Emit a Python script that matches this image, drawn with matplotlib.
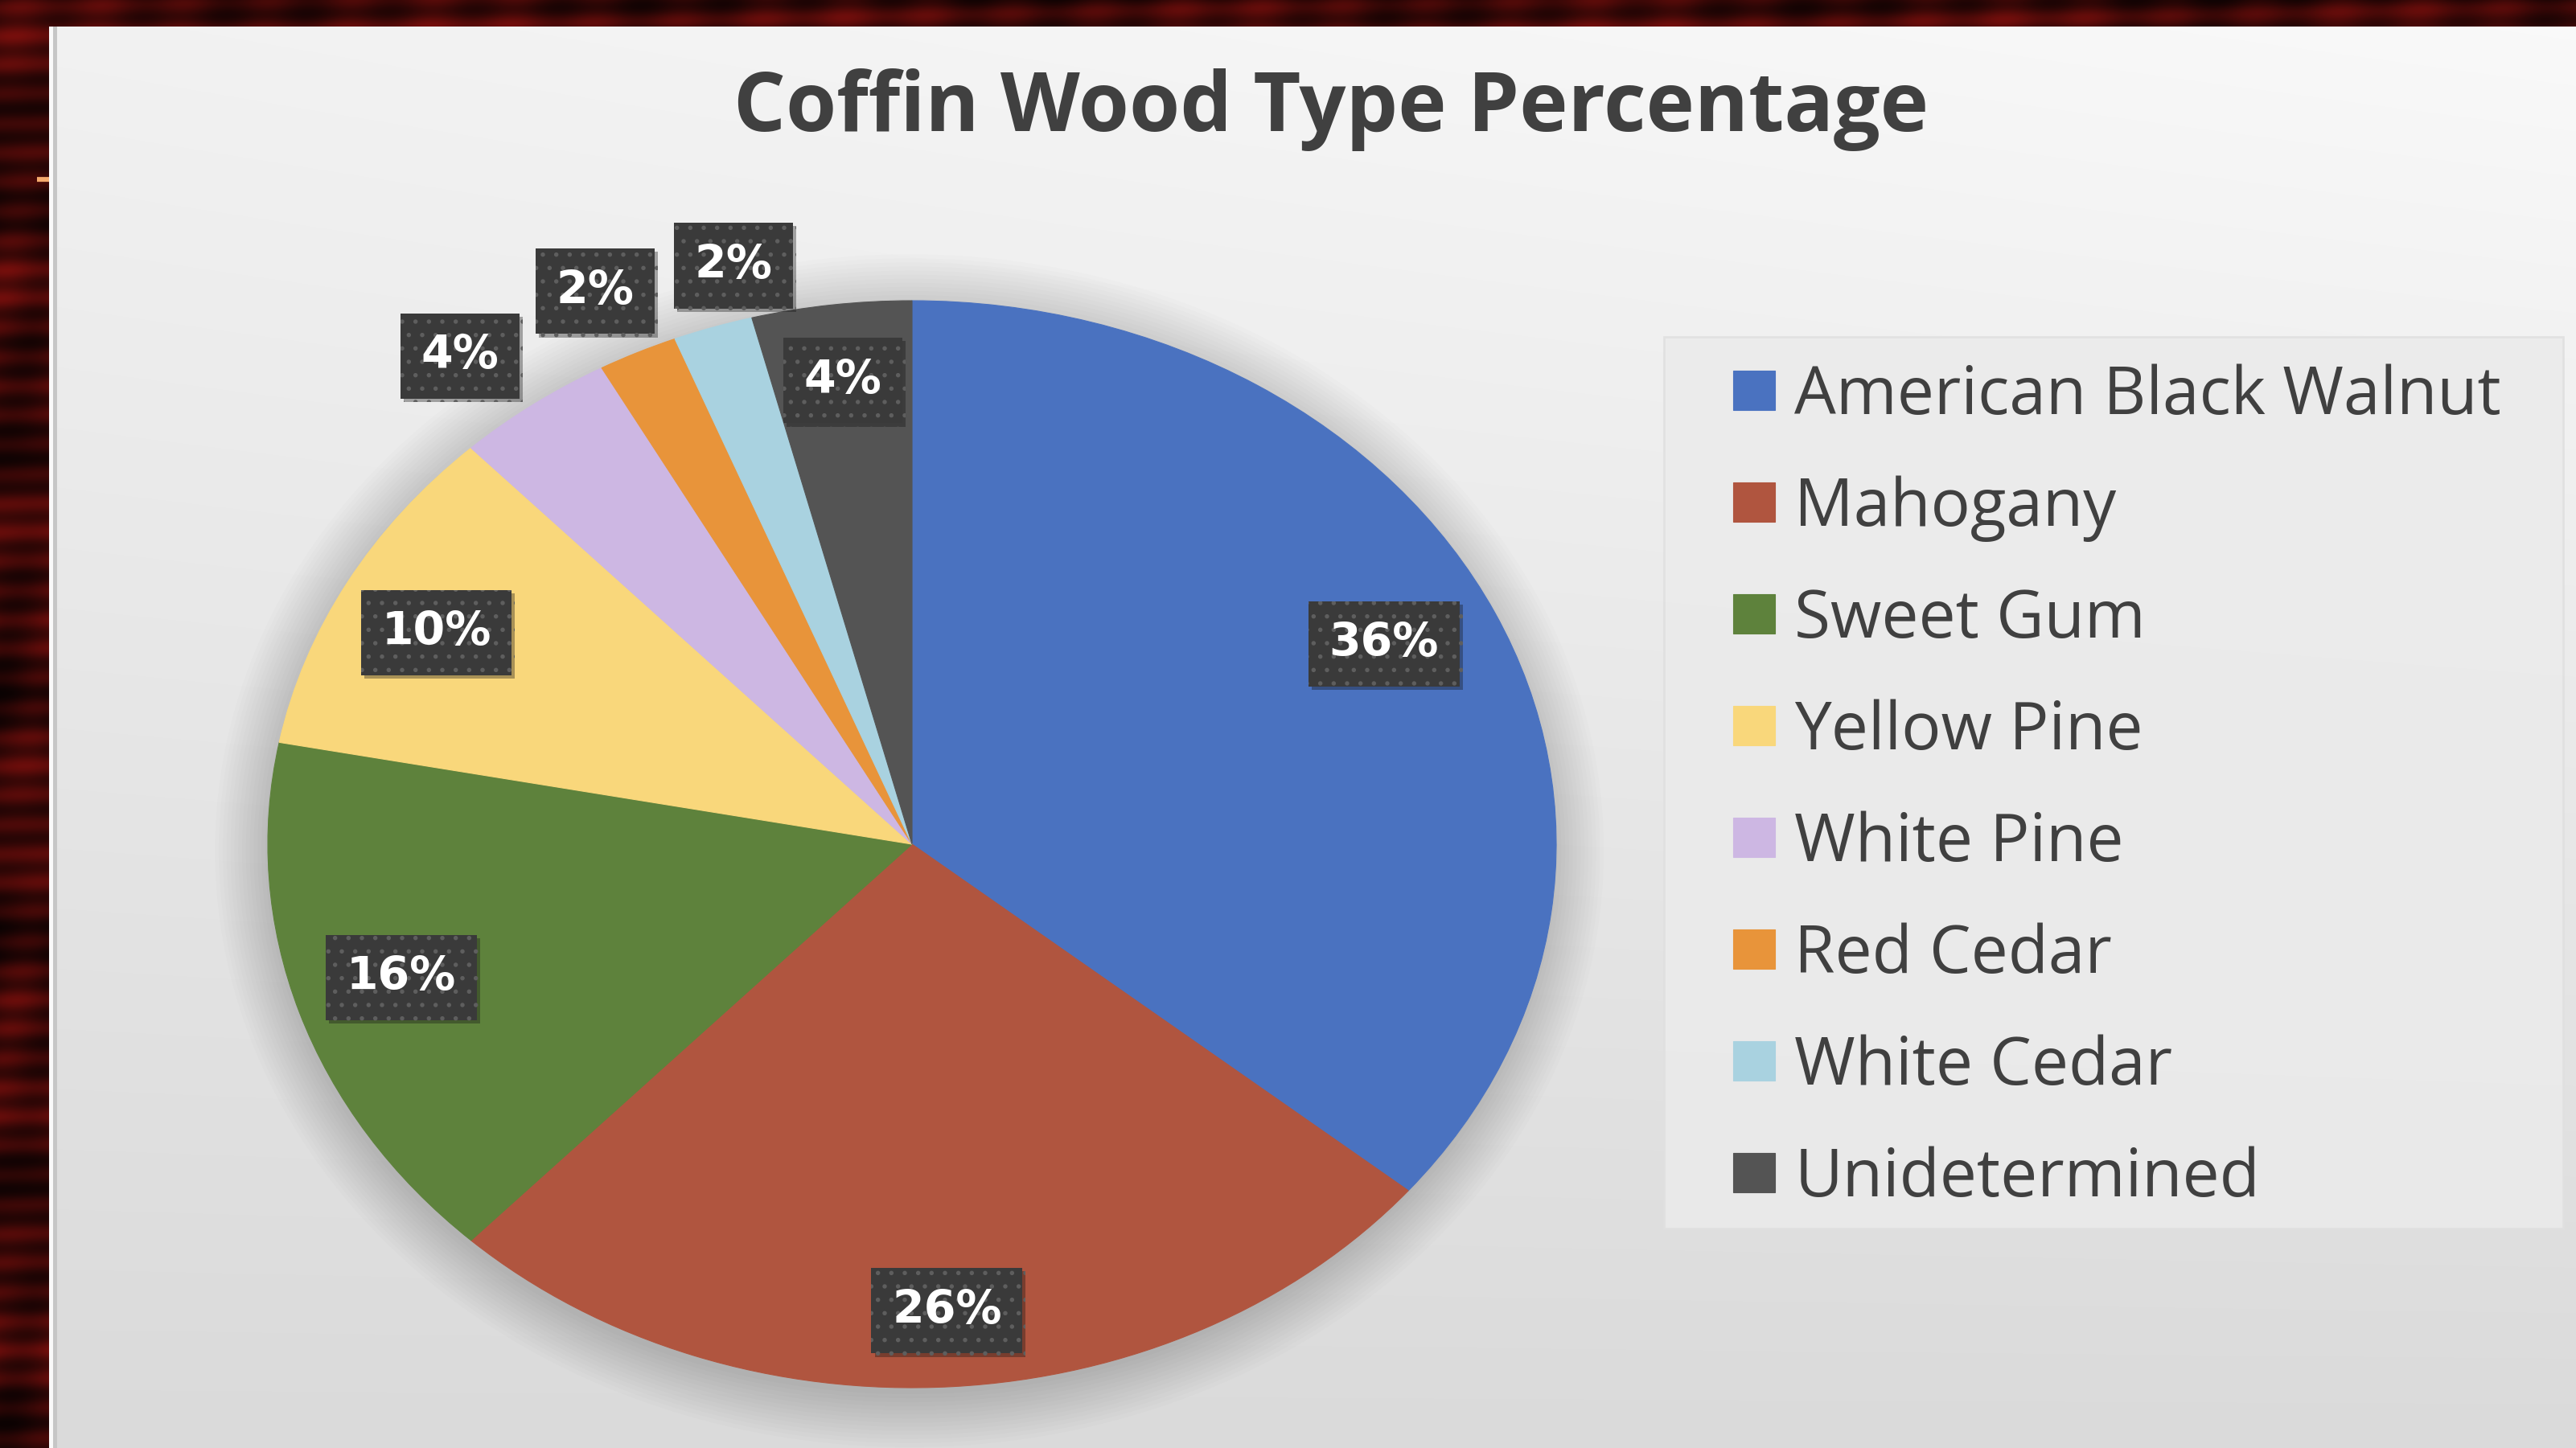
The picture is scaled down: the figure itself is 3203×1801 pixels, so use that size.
import numpy as np
import matplotlib.pyplot as plt
import matplotlib.patheffects as pe
from matplotlib.patches import Ellipse, Rectangle

# --- data ---
categories = ["American Black Walnut", "Mahogany", "Sweet Gum", "Yellow Pine",
              "White Pine", "Red Cedar", "White Cedar", "Unidetermined"]
shares = [36, 26, 16, 10, 4, 2, 2, 4]

# --- style ---
colors = ["#4A72C0", "#B0553F", "#5E823C", "#F9D77B",
          "#CDB7E3", "#E8943A", "#A9D2E0", "#545454"]
label_dist = [0.82, 0.86, 0.83, 0.835, 1.14, 1.13, 1.10, 0.86]
label_shift = [1.5, 0, -0.8, 1.0, 2, 0.6, -3.4, 0]

W, H = 3203, 1801
fig = plt.figure(figsize=(W / 100, H / 100), dpi=100)

# --- slide background: wood strip + grey gradient panel ---
yy, xx = np.mgrid[0:H, 0:W].astype(float)
val = 0.855 + 0.125 * (1 - yy / H) * (0.75 + 0.25 * xx / W)
img = np.dstack([val, val, val])

streak = (0.45 + 0.22 * np.sin(yy * 0.031) * np.sin(yy * 0.0113 + 1.0)
          + 0.15 * np.sin(yy * 0.173 + xx * 0.004)
          + 0.12 * np.sin(yy * 0.0071 + 2.0) * np.sin(xx * 0.061 + yy * 0.013)
          + 0.08 * np.sin(xx * 0.013 + 0.5))
streak = np.clip(streak, 0, 1) ** 1.4
wood = np.dstack([0.04 + 0.45 * streak, 0.01 + 0.05 * streak, 0.01 + 0.04 * streak])
mask = (xx < 61) | (yy < 34)
img[mask] = wood[mask]
img[(xx >= 61) & (xx < 66) & (yy >= 34)] = 0.98
img[(xx >= 66) & (xx < 71) & (yy >= 34)] = 0.78
img[(xx >= 46) & (xx < 61) & (yy >= 221) & (yy < 227)] = [0.96, 0.67, 0.43]

ax_bg = fig.add_axes([0, 0, 1, 1])
ax_bg.imshow(img, extent=[0, W, H, 0], aspect='auto', interpolation='bilinear')
ax_bg.add_patch(Rectangle((2069, 419), 1118, 1109, facecolor='#EBEBEB',
                          edgecolor='#E0E0E0', linewidth=2, alpha=0.9))
ax_bg.set_xlim(0, W)
ax_bg.set_ylim(H, 0)
ax_bg.axis('off')

# --- pie (stretched into an ellipse) ---
ax = fig.add_axes([333 / W, 75 / H, 1602 / W, 1352 / H])
ax.set_facecolor('none')

for k in range(14):
    ax.add_patch(Ellipse((-0.004, -0.012), 2 + 0.012 * k, 2 + 0.015 * k,
                         facecolor='black', edgecolor='none', alpha=0.012,
                         zorder=0, clip_on=False))

wedges, _ = ax.pie(shares, colors=colors, startangle=90, counterclock=False,
                   radius=1, wedgeprops=dict(linewidth=0.8))
for w, c in zip(wedges, colors):
    w.set_edgecolor(c)
    w.set_zorder(2)

ax.set_xlim(-1, 1)
ax.set_ylim(-1, 1)
ax.set_aspect('auto')
ax.axis('off')

plt.rcParams['hatch.linewidth'] = 1.5
for w, v, d, s in zip(wedges, shares, label_dist, label_shift):
    ang = np.deg2rad((w.theta1 + w.theta2) / 2 + s)
    t = ax.text(d * np.cos(ang), d * np.sin(ang), f"{v}%", ha='center', va='center',
                fontsize=41, fontweight='bold', family='DejaVu Sans', color='white',
                bbox=dict(boxstyle='square,pad=0.45', facecolor='#3A3A3A',
                          edgecolor='#5E5E5E', linewidth=0, hatch='.'),
                zorder=5)
    t.get_bbox_patch().set_path_effects(
        [pe.SimplePatchShadow(offset=(3, -3), alpha=0.35), pe.Normal()])

# --- title ---
fig.text(1655 / W, 1 - 163 / H, "Coffin Wood Type Percentage", ha='center', va='baseline',
         fontsize=73.5, fontweight='bold', family='Open Sans', color='#404040')

# --- legend ---
fig.legend(wedges, categories, loc='upper left', bbox_to_anchor=(2155 / W, 1 - 452 / H),
           frameon=False, prop=dict(family='Open Sans', size=59), labelcolor='#404040',
           handlelength=0.63, handleheight=0.55, handletextpad=0.3,
           labelspacing=0.69, borderpad=0, borderaxespad=0)

fig.savefig('out.png', dpi=100)
